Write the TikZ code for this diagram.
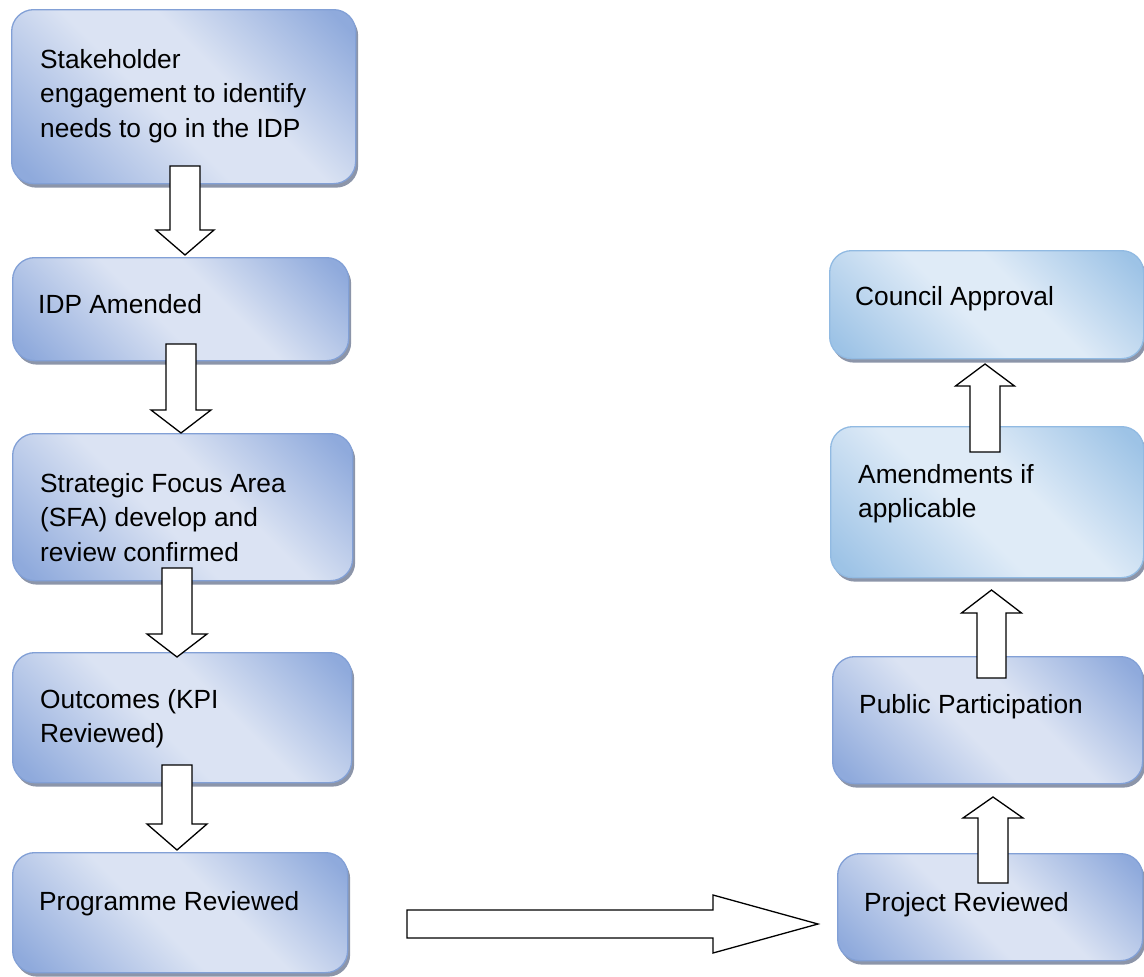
\documentclass[tikz,border=0pt]{standalone}
\usepackage{fontspec}
\setmainfont{Liberation Sans}
\usetikzlibrary{shadows}

\definecolor{pdark}{RGB}{143,170,220}
\definecolor{plight}{RGB}{219,227,243}
\definecolor{pborder}{RGB}{130,160,214}
\definecolor{sdark}{RGB}{157,195,230}
\definecolor{slight}{RGB}{223,235,247}
\definecolor{sborder}{RGB}{145,186,226}
\definecolor{shadowgray}{RGB}{128,138,160}

% diagonal shadings: darker toward two opposite corners, light band through the middle
\pgfdeclarehorizontalshading{purpleshade}{100bp}{color(0bp)=(pdark); color(18bp)=(pdark); color(45bp)=(plight); color(58bp)=(plight); color(82bp)=(pdark); color(100bp)=(pdark)}
\pgfdeclarehorizontalshading{skyshade}{100bp}{color(0bp)=(sdark); color(18bp)=(sdark); color(45bp)=(slight); color(58bp)=(slight); color(82bp)=(sdark); color(100bp)=(sdark)}

\tikzset{
  flowbox/.style={rectangle, rounded corners=22pt, line width=1.3pt, inner sep=0pt,
    anchor=north west,
    drop shadow={shadow xshift=2.5pt, shadow yshift=-4pt, fill=shadowgray, opacity=0.9}},
  purplebox/.style={flowbox, draw=pborder, shading=purpleshade, shading angle=45},
  skybox/.style={flowbox, draw=sborder, shading=skyshade, shading angle=45},
  boxtext/.style={anchor=north west, inner sep=0pt, align=left,
    font=\fontsize{26.3pt}{34.5pt}\selectfont},
  blockarr/.style={draw=black, fill=white, line width=1.3pt, line join=miter},
}

% block arrow along a vertical line: x, shaft end, head base, tip, shaft half width, head half width
\newcommand\flowarrowv[6]{%
  \draw[blockarr] ({#1-#5},#2) -- ({#1+#5},#2) -- ({#1+#5},#3) -- ({#1+#6},#3)
    -- (#1,#4) -- ({#1-#6},#3) -- ({#1-#5},#3) -- cycle;}

\begin{document}
\begin{tikzpicture}[x=1pt, y=-1pt]
  \useasboundingbox (0,0) rectangle (1144,977);

  % left column
  \node[purplebox, minimum width=344pt, minimum height=174pt] (b1) at (11,9) {};
  \node[purplebox, minimum width=336pt, minimum height=103pt] (b2) at (12,257) {};
  \node[purplebox, minimum width=340pt, minimum height=147pt] (b3) at (12,433) {};
  \node[purplebox, minimum width=339pt, minimum height=130pt] (b4) at (12,652) {};
  \node[purplebox, minimum width=335pt, minimum height=120pt] (b5) at (12,852) {};

  % right column
  \node[skybox, minimum width=314pt, minimum height=108pt] (b6) at (829,250) {};
  \node[skybox, minimum width=313pt, minimum height=151pt] (b7) at (830,426) {};
  \node[purplebox, minimum width=310pt, minimum height=127pt] (b8) at (832,656) {};
  \node[purplebox, minimum width=305pt, minimum height=107pt] (b9) at (837,853) {};

  % texts
  \node[boxtext] (t1) at (40,49.2) {Stakeholder\\engagement to identify\\needs to go in the IDP};
  \node[boxtext] (t2) at (38,294.2) {IDP Amended};
  \node[boxtext] (t3) at (40,473.2) {Strategic Focus Area\\(SFA) develop and\\review confirmed};
  \node[boxtext] (t4) at (40,689.2) {Outcomes (KPI\\Reviewed)};
  \node[boxtext] (t5) at (39,891.2) {Programme Reviewed};
  \node[boxtext] (t6) at (855,286.2) {Council Approval};
  \node[boxtext] (t7) at (858,464.2) {Amendments if\\applicable};
  \node[boxtext] (t8) at (859,694.2) {Public Participation};
  \node[boxtext] (t9) at (864,892.2) {Project Reviewed};

  % arrows down the left column
  \flowarrowv{185}{166}{230}{255}{15}{29}
  \flowarrowv{181}{344}{410}{433}{15}{30}
  \flowarrowv{177}{568}{634}{657}{15}{30}
  \flowarrowv{177}{765}{824}{850}{15}{30}

  % arrow across to the right column
  \draw[blockarr] (407,910) -- (713,910) -- (713,895) -- (818,924) -- (713,953)
    -- (713,938) -- (407,938) -- cycle;

  % arrows up the right column
  \flowarrowv{993}{883}{818}{797}{15}{30}
  \flowarrowv{991.5}{678}{613}{590}{14.5}{30}
  \flowarrowv{985}{452}{386}{364}{15}{29.5}
\end{tikzpicture}
\end{document}
